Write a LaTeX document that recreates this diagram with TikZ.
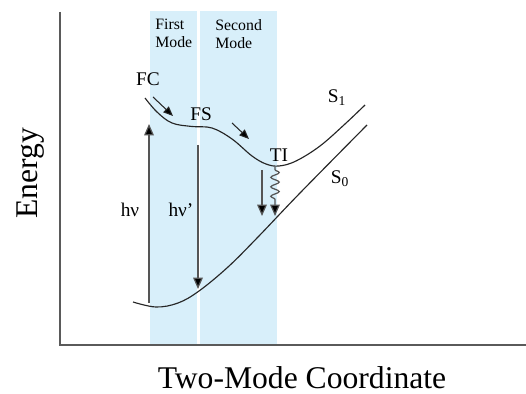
\documentclass[tikz,border=0pt]{standalone}
\usepackage{fontspec}
\setmainfont{Liberation Serif}
\usetikzlibrary{arrows.meta,decorations.pathmorphing}
\definecolor{bandblue}{HTML}{D8EFFA}
\definecolor{axisgray}{HTML}{5A5A5A}
\definecolor{arrgray}{HTML}{555555}
\tikzset{
  band/.style={fill=bandblue, draw=none},
  axisline/.style={draw=axisgray, line width=0.9pt},
  curve/.style={draw=black!85, line width=0.65pt},
  trans/.style={draw=arrgray, line width=0.7pt, -{Triangle[width=5.5pt,length=6.5pt,fill=black]}},
  small/.style={draw=black!85, line width=0.6pt, -{Triangle[width=4.5pt,length=5.5pt,fill=black]}},
  lbl/.style={font=\fontsize{11}{13}\selectfont, inner sep=0pt},
  modelbl/.style={font=\fontsize{9}{10.2}\selectfont, inner sep=0pt, align=left, anchor=north west},
  biglbl/.style={font=\fontsize{18}{20}\selectfont, inner sep=0pt, anchor=base}
}
\begin{document}
\begin{tikzpicture}[x=0.02cm,y=-0.02cm]
\useasboundingbox (0,0) rectangle (526,394);
% bands
\fill[band] (150,11) rectangle (197,345);
\fill[band] (200,11) rectangle (277,345);
% axes
\draw[axisline] (60,12) -- (60,345) -- (526,345);
% mode labels
\node[modelbl] (first) at (155,19) {First\\Mode};
\node[modelbl] (second) at (215,19) {Second\\Mode};
% curves
\draw[curve] plot[smooth, tension=0.6] coordinates {(145,98) (157,112) (172,123) (192,126.5) (212,128) (232,139) (252,156) (266,164) (279,166) (296,161) (320,146) (345,124) (365,105)};
\draw[curve] plot[smooth, tension=0.6] coordinates {(133,302) (156,307) (178,303) (199,291) (228,267) (258,237) (300,193) (367,125)};
% coordinates for connectors
\coordinate (hvA) at (149,303);
\coordinate (hvB) at (149,124);
\coordinate (hvpA) at (198,145);
\coordinate (hvpB) at (198,289);
\coordinate (tiA) at (262,170);
\coordinate (tiB) at (262,216);
\coordinate (tiW) at (275,167);
\coordinate (tiWB) at (275,216);
\coordinate (fcA) at (153,97);
\coordinate (fcB) at (173,116);
\coordinate (fsA) at (232,123);
\coordinate (fsB) at (249,139);
% arrows
\draw[trans] (hvA) -- (hvB);
\draw[trans] (hvpA) -- (hvpB);
\draw[trans] (tiA) -- (tiB);
\draw[trans, decorate, decoration={snake, amplitude=2.4pt, segment length=5.4pt, pre length=1.5pt, post length=8pt}] (tiW) -- (tiWB);
\draw[small] (fcA) -- (fcB);
\draw[small] (fsA) -- (fsB);
% labels
\node[lbl] (fc) at (148,79) {FC};
\node[lbl] (fs) at (201,114) {FS};
\node[lbl] (ti) at (279,155) {TI};
\node[lbl] (s1) at (337,98) {S\textsubscript{1}};
\node[lbl] (s0) at (340,179) {S\textsubscript{0}};
\node[lbl] (hv) at (130,210) {hν};
\node[lbl] (hvp) at (181,210) {hν'};
\node[biglbl, rotate=90] (energy) at (37,173) {Energy};
\node[biglbl] (xlabel) at (302,388) {Two-Mode Coordinate};
\end{tikzpicture}
\end{document}
